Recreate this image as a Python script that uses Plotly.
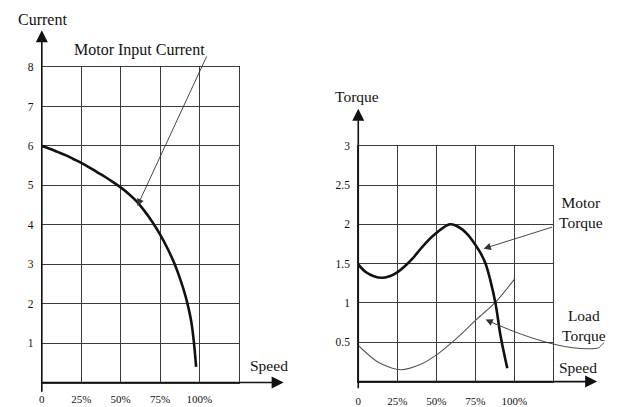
import plotly.graph_objects as go

W, H = 618, 407
FONT = "Liberation Serif"

# ---------------- data ----------------
speed_ticks = [0, 25, 50, 75, 100, 125]
speed_labels = ["0", "25%", "50%", "75%", "100%", ""]

current_ticks = [0, 1, 2, 3, 4, 5, 6, 7, 8]
current_labels = ["", "1", "2", "3", "4", "5", "6", "7", "8"]

torque_ticks = [0, 0.5, 1, 1.5, 2, 2.5, 3]
torque_labels = ["", "0.5", "1", "1.5", "2", "2.5", "3"]

current_speed = [0, 5, 10, 15, 20, 25, 30, 35, 40, 45, 50, 55, 60, 65, 70, 75, 80, 84, 88, 91, 93, 95, 96.4, 97.9]
motor_current = [6.0, 5.93, 5.85, 5.77, 5.67, 5.57, 5.46, 5.34, 5.22, 5.09, 4.95, 4.79, 4.60, 4.36, 4.08, 3.76,
                 3.38, 3.03, 2.6, 2.22, 1.9, 1.5, 1.05, 0.4]

motor_speed = [0, 5, 10, 15, 20, 25, 30, 35, 40, 45, 50, 55, 58.5, 62, 67, 71, 75, 78.5, 81.6, 84.5, 88, 91.2, 95.5]
motor_torque = [1.49, 1.39, 1.34, 1.32, 1.34, 1.39, 1.47, 1.57, 1.69, 1.80, 1.89, 1.965, 2.0, 1.99, 1.93, 1.85,
                1.74, 1.63, 1.50, 1.30, 0.99, 0.58, 0.17]

load_speed = [0, 12.5, 27, 40, 50.8, 63, 76.3, 88, 100]
load_torque = [0.46, 0.25, 0.15, 0.22, 0.35, 0.55, 0.80, 1.01, 1.30]


def px(x):
    return x / W


def py(y):
    return 1 - y / H


fig = go.Figure()

fig.add_trace(go.Scatter(x=current_speed, y=motor_current, mode="lines",
                         line=dict(color="#111", width=2.6, shape="spline", smoothing=1.0),
                         xaxis="x", yaxis="y", showlegend=False, hoverinfo="skip"))
fig.add_trace(go.Scatter(x=load_speed, y=load_torque, mode="lines",
                         line=dict(color="#555", width=1.1, shape="spline", smoothing=0.8),
                         xaxis="x2", yaxis="y2", showlegend=False, hoverinfo="skip"))
fig.add_trace(go.Scatter(x=motor_speed, y=motor_torque, mode="lines",
                         line=dict(color="#111", width=2.6, shape="spline", smoothing=1.0),
                         xaxis="x2", yaxis="y2", showlegend=False, hoverinfo="skip"))

grid = dict(showgrid=True, gridcolor="#3a3a3a", gridwidth=1.1, zeroline=False,
            showline=True, mirror=True, linecolor="#3a3a3a", linewidth=1.1,
            ticks="", tickfont=dict(family=FONT, size=11, color="#111"),
            fixedrange=True)
yfont = dict(family=FONT, size=11.5, color="#111")

fig.update_layout(
    width=W, height=H,
    margin=dict(l=0, r=0, t=0, b=0),
    paper_bgcolor="white", plot_bgcolor="white",
    showlegend=False,
    xaxis=dict(domain=[px(39), px(237)], range=[0, 125], tickmode="array",
               tickvals=speed_ticks, ticktext=speed_labels, anchor="y",
               ticklabelstandoff=6, **grid),
    yaxis=dict(domain=[py(388), py(63)], range=[0, 8], tickmode="array",
               tickvals=current_ticks, ticktext=current_labels, anchor="x",
               ticklabelstandoff=5, **{**grid, "tickfont": yfont}),
    xaxis2=dict(domain=[px(357), px(553)], range=[0, 125], tickmode="array",
                tickvals=speed_ticks, ticktext=speed_labels, anchor="y2",
                ticklabelstandoff=9, **grid),
    yaxis2=dict(domain=[py(387), py(144)], range=[0, 3], tickmode="array",
                tickvals=torque_ticks, ticktext=torque_labels, anchor="x2",
                ticklabelstandoff=5, **{**grid, "tickfont": yfont}),
)

ann = []


def arrow(x0, y0, x1, y1, width=1.5, size=1.3, color="#111", head=2):
    ann.append(dict(xref="paper", yref="paper", x=px(x1), y=py(y1),
                    axref="pixel", ayref="pixel", ax=x0 - x1, ay=y0 - y1,
                    showarrow=True, arrowhead=head, arrowsize=size, arrowwidth=width,
                    arrowcolor=color, standoff=0, text=""))


def label(text, x, y, size=15.5, align="center"):
    ann.append(dict(xref="paper", yref="paper", x=px(x), y=py(y), text=text,
                    showarrow=False, xanchor="center", yanchor="middle", align=align,
                    font=dict(family=FONT, size=size, color="#111")))


# axis arrows
arrow(39, 388, 282, 388, width=1.6, size=1.5)
arrow(39, 388, 39, 25, width=1.6, size=1.5)
arrow(357, 387, 597, 387, width=1.6, size=1.5)
arrow(357, 387, 357, 106, width=1.6, size=1.5)

# leader arrows
arrow(205, 55, 135, 206, width=0.9, size=1.6, color="#333")
arrow(553, 228, 483, 250, width=0.9, size=1.6, color="#333")
arrow(498, 329, 485, 323, width=0.9, size=1.6, color="#333")

# labels
label("Current", 40, 14, size=16)
label("Motor Input Current", 137, 45, size=16)
label("Torque", 356, 93)
label("Motor<br>Torque", 581, 213)
label("Load<br>Torque", 584, 329)
label("Speed", 267, 370)
label("Speed", 578, 372)

fig.update_layout(annotations=ann)

fig.add_shape(type="path", xref="paper", yref="paper",
              path=(f"M {px(497)},{py(328.5)} C {px(530)},{py(343)} {px(560)},{py(352)} "
                    f"{px(582)},{py(353)} S {px(598)},{py(351)} {px(604)},{py(347)}"),
              line=dict(color="#333", width=0.9))

fig.write_html("out.html", config={"displayModeBar": False},
               post_script="document.body.style.margin='0px';")
